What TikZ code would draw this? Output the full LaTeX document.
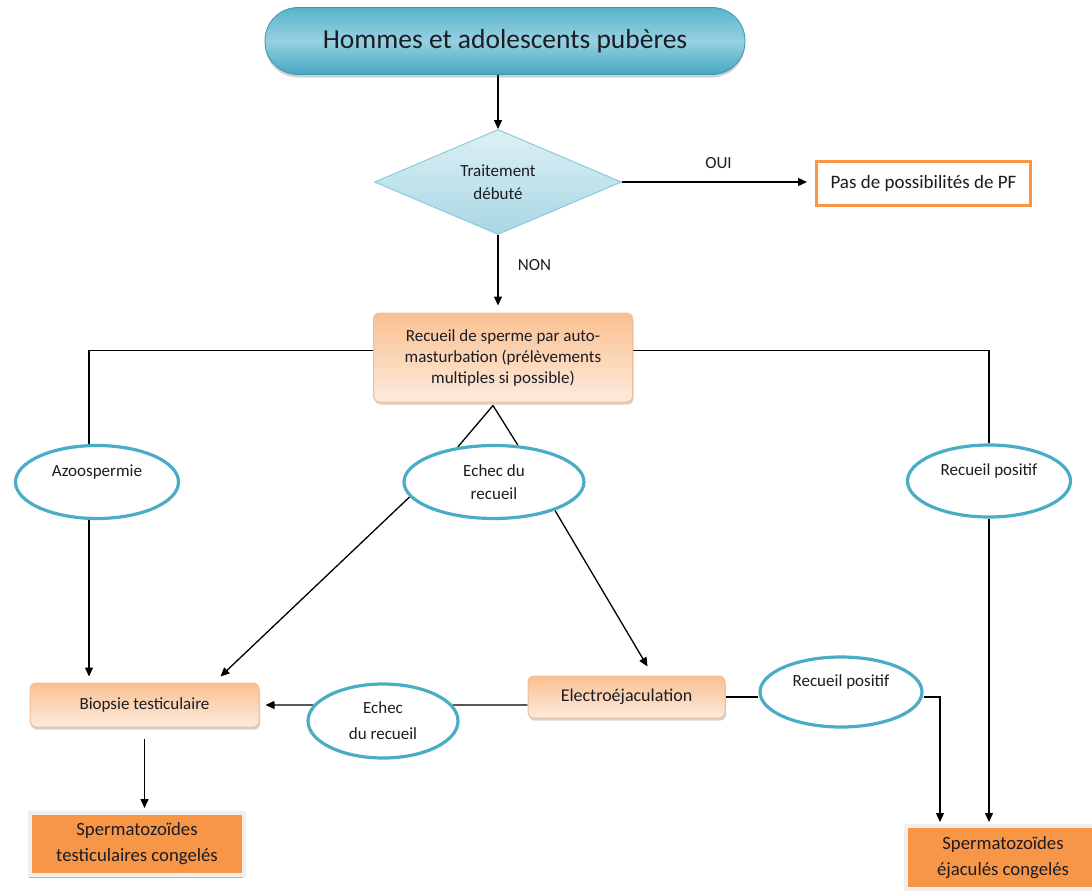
\documentclass[tikz,border=0pt]{standalone}
\usepackage{fontspec}
\setmainfont{Carlito}
\usetikzlibrary{shapes.geometric,shadows,arrows.meta,backgrounds}
\definecolor{tealE}{HTML}{4BACC6}
\definecolor{titT}{HTML}{5AB3CB}
\definecolor{titM}{HTML}{95D1E1}
\definecolor{titB}{HTML}{44A6C1}
\definecolor{titD}{HTML}{3A97B0}
\definecolor{diaT}{HTML}{DCF0F5}
\definecolor{diaBo}{HTML}{A8D7E4}
\definecolor{diaD}{HTML}{8CCADB}
\definecolor{peachT}{HTML}{FAC090}
\definecolor{peachL}{HTML}{FDEBDD}
\definecolor{peachD}{HTML}{F2BE96}
\definecolor{orangeF}{HTML}{F79646}
\definecolor{frameG}{HTML}{EFEFEF}
\definecolor{shadB}{HTML}{C4A084}
\definecolor{txtC}{HTML}{1C1C24}
\begin{document}
\begin{tikzpicture}[x=1pt,y=-1pt,
  txt/.style={font=\fontsize{17}{23}\selectfont, text=txtC, align=center},
  conn/.style={line width=1.3pt, black},
  arr/.style={conn, -{Triangle[length=9pt,width=8pt]}},
  oval/.style={ellipse, draw=tealE, line width=3.2pt, fill=white, inner sep=0pt, txt},
  peach/.style={rectangle, rounded corners=6pt, draw=peachD, line width=1pt,
     top color=peachT, bottom color=peachL, inner sep=0pt, txt,
     drop shadow={shadow xshift=1pt, shadow yshift=-2.5pt, opacity=.3, fill=black!60}},
  orbox/.style={rectangle, draw=frameG, line width=4pt, fill=orangeF, inner sep=0pt,
     txt, font=\fontsize{18.7}{26}\selectfont,
     drop shadow={shadow xshift=-1pt, shadow yshift=-3pt, opacity=.9, fill=shadB}},
  titlebox/.style={rectangle, rounded corners=33pt, draw=titD, line width=0.8pt,
     top color=titT, bottom color=titB, middle color=titM, inner sep=0pt,
     font=\fontsize{27.5}{32}\selectfont, text=txtC,
     drop shadow={shadow xshift=0pt, shadow yshift=-3pt, opacity=.3, fill=black!60}},
  diabox/.style={diamond, aspect=2.35, minimum width=247pt, minimum height=105pt,
     inner sep=0pt, draw=diaD, line width=1pt, top color=diaT, bottom color=diaBo, txt},
  pfbox/.style={rectangle, draw=orangeF, line width=3pt, fill=white, inner sep=0pt, txt,
     font=\fontsize{19}{23}\selectfont}
]
\useasboundingbox (0,0) rectangle (1092,891);

\node[titlebox, minimum width=480pt, minimum height=67pt] (top) at (505,41) {Hommes et adolescents pubères};
\node[diabox] (dia) at (498,182) {Traitement\\débuté};
\node[pfbox, minimum width=214pt, minimum height=44pt] (pf) at (923.5,183) {Pas de possibilités de PF};
\node[peach, minimum width=259pt, minimum height=89pt, font=\fontsize{17}{21}\selectfont] (rec) at (503,357.5)
  {Recueil de sperme par auto-\\masturbation (prélèvements\\multiples si possible)};
\node[oval, minimum width=163pt, minimum height=73pt] (azo) at (97,482) {Azoospermie\\\mbox{}};
\node[oval, minimum width=180pt, minimum height=73pt] (ech1) at (494,482) {Echec du\\recueil};
\node[oval, minimum width=163pt, minimum height=72pt] (rp1) at (989,481) {Recueil positif\\\mbox{}};
\node[peach, minimum width=229pt, minimum height=44pt] (bio) at (144.5,705) {Biopsie testiculaire};
\node[oval, minimum width=150pt, minimum height=74pt, font=\fontsize{17}{26}\selectfont] (ech2) at (383,721) {Echec\\du recueil};
\node[peach, minimum width=197pt, minimum height=42pt, font=\fontsize{18}{23}\selectfont] (ele) at (626.5,697) {Electroéjaculation};
\node[oval, minimum width=162pt, minimum height=70pt] (rp2) at (841,692) {Recueil positif\\\mbox{}};
\node[orbox, minimum width=214pt, minimum height=62pt] (spt) at (137,844) {Spermatozoïdes\\testiculaires congelés};
\node[orbox, minimum width=194pt, minimum height=63pt] (sej) at (1003,857.5) {Spermatozoïdes\\éjaculés congelés};

\coordinate (apex) at ([xshift=-10pt,yshift=-3pt]rec.south);

\begin{scope}[on background layer]
\draw[arr] (top.south -| dia.north) -- (dia.north);
\draw[arr, shorten >=8pt] (dia.east) -- node[txt, above=9pt] (oui) {OUI} (dia.east -| pf.west);
\draw[arr, shorten >=7pt] (dia.south) -- node[txt, pos=0.39, right=16pt] (non) {NON} (dia.south |- rec.north);
\draw[conn] ([yshift=7pt]rec.west) -| ([xshift=-8pt]azo.north);
\draw[arr, shorten >=6pt] ([xshift=-8pt]azo.south) -- ([xshift=-8pt]azo.south |- bio.north);
\draw[conn] ([yshift=7pt]rec.east) -| (rp1.north);
\draw[arr, shorten >=2pt] (rp1.south) -- (rp1.south |- sej.north);
\draw[conn] (apex) -- (ech1.136);
\draw[conn] (apex) -- (ech1.57);
\draw[arr] (ech1.190) -- ([xshift=76pt,yshift=6pt]bio.north);
\draw[arr] (ech1.335) -- ([xshift=21pt,yshift=9pt]ele.north);
\draw[conn] ([yshift=-8pt]ele.west) -- (ech2.13);
\draw[arr, shorten >=6pt] (ech2.167) -- (bio.east);
\draw[conn] (ele.east) -- (ele.east -| rp2.west);
\draw[arr, shorten >=2pt] ([yshift=-5pt]rp2.east) -| ([xshift=-63pt]sej.north);
\draw[arr, shorten <=11pt, shorten >=3pt] (bio.south) -- (bio.south |- spt.north);
\end{scope}
\end{tikzpicture}
\end{document}
